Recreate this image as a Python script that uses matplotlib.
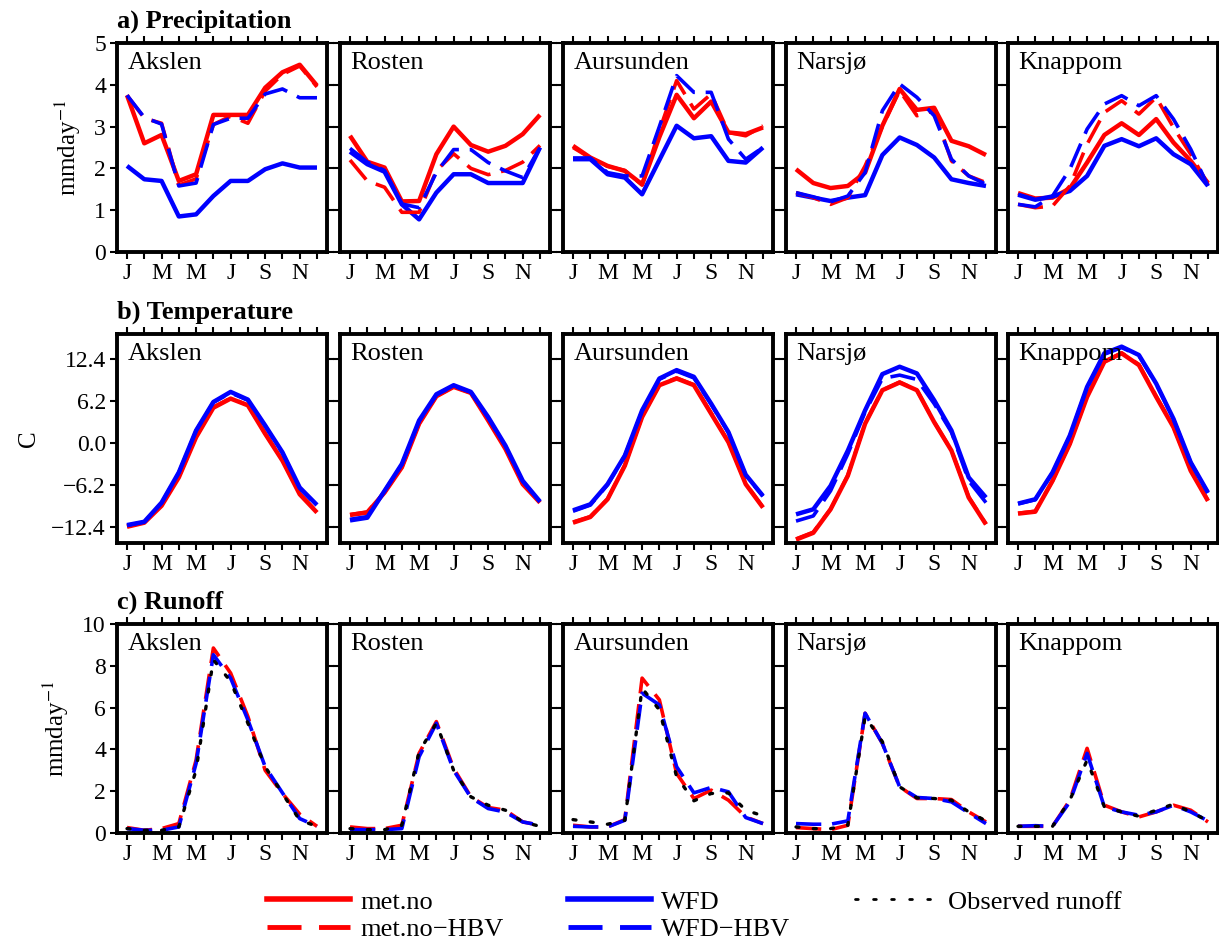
import matplotlib
matplotlib.use("Agg")
import matplotlib.pyplot as plt
from matplotlib.lines import Line2D
import numpy as np

plt.rcParams['font.family'] = ['Liberation Serif', 'DejaVu Serif']
plt.rcParams['mathtext.fontset'] = 'stix'

months = np.arange(1, 13)
month_labels = ['J', '', 'M', '', 'M', '', 'J', '', 'S', '', 'N', '']
stations = ['Akslen', 'Rosten', 'Aursunden', 'Narsjø', 'Knappom']

# ---------------- Precipitation (mm/day) ----------------
prec_metno = {
    'Akslen':    [3.75, 2.6, 2.8, 1.7, 1.86, 3.28, 3.28, 3.28, 3.93, 4.3, 4.48, 3.98],
    'Rosten':    [2.78, 2.16, 2.02, 1.21, 1.22, 2.34, 3.0, 2.56, 2.4, 2.54, 2.82, 3.28],
    'Aursunden': [2.54, 2.26, 2.06, 1.94, 1.62, 2.75, 3.76, 3.2, 3.6, 2.86, 2.82, 2.98],
    'Narsjø':    [1.98, 1.65, 1.53, 1.58, 1.9, 3.02, 3.9, 3.4, 3.45, 2.66, 2.53, 2.32],
    'Knappom':   [1.41, 1.28, 1.3, 1.52, 2.14, 2.8, 3.08, 2.8, 3.18, 2.62, 2.18, 1.65],
}
prec_metno_hbv = {
    'Akslen':    [3.75, 3.2, 3.08, 1.6, 1.75, 3.05, 3.25, 3.08, 3.85, 4.25, 4.45, 3.95],
    'Rosten':    [2.2, 1.7, 1.55, 0.95, 0.95, 1.95, 2.35, 2.0, 1.85, 1.95, 2.15, 2.55],
    'Aursunden': [2.5, 2.25, 2.05, 1.95, 1.6, 2.9, 4.1, 3.42, 3.78, 2.86, 2.78, 3.02],
    'Narsjø':    [1.42, 1.3, 1.14, 1.3, 2.06, 3.0, 3.86, 3.26, 3.38, 2.18, 1.82, 1.66],
    'Knappom':   [1.14, 1.06, 1.1, 1.58, 2.58, 3.34, 3.62, 3.3, 3.7, 2.98, 2.34, 1.62],
}
prec_wfd = {
    'Akslen':    [2.06, 1.74, 1.7, 0.85, 0.9, 1.34, 1.7, 1.7, 1.98, 2.12, 2.02, 2.02],
    'Rosten':    [2.4, 2.1, 1.92, 1.14, 0.78, 1.42, 1.86, 1.86, 1.65, 1.65, 1.65, 2.5],
    'Aursunden': [2.22, 2.22, 1.86, 1.78, 1.38, 2.2, 3.02, 2.72, 2.77, 2.18, 2.14, 2.5],
    'Narsjø':    [1.38, 1.3, 1.22, 1.3, 1.36, 2.32, 2.74, 2.56, 2.26, 1.74, 1.65, 1.58],
    'Knappom':   [1.37, 1.25, 1.33, 1.46, 1.82, 2.54, 2.7, 2.53, 2.72, 2.34, 2.1, 1.58],
}
prec_wfd_hbv = {
    'Akslen':    [3.75, 3.22, 3.06, 1.58, 1.65, 3.05, 3.2, 3.2, 3.78, 3.9, 3.69, 3.69],
    'Rosten':    [2.48, 2.15, 1.95, 1.15, 1.06, 1.9, 2.45, 2.45, 2.14, 1.94, 1.78, 2.5],
    'Aursunden': [2.25, 2.25, 1.9, 1.82, 1.82, 3.0, 4.22, 3.82, 3.82, 2.7, 2.22, 2.5],
    'Narsjø':    [1.42, 1.32, 1.2, 1.34, 1.9, 3.38, 4.02, 3.7, 3.26, 2.22, 1.82, 1.62],
    'Knappom':   [1.14, 1.08, 1.34, 1.98, 2.94, 3.54, 3.74, 3.5, 3.74, 3.18, 2.46, 1.58],
}

# ---------------- Temperature (C) ----------------
temp_metno = {
    'Akslen':    [-12.4, -11.8, -9.3, -5.1, 0.84, 5.2, 6.55, 5.55, 1.34, -2.63, -7.6, -10.3],
    'Rosten':    [-10.66, -10.3, -7.34, -3.62, 2.83, 6.9, 8.28, 7.39, 3.32, -0.89, -6.1, -8.83],
    'Aursunden': [-11.8, -10.96, -8.33, -3.37, 3.82, 8.53, 9.52, 8.53, 4.31, 0.1, -6.1, -9.57],
    'Narsjø':    [-14.3, -13.3, -9.82, -4.86, 2.83, 7.79, 8.93, 7.79, 3.07, -1.14, -8.08, -12.05],
    'Knappom':   [-10.46, -10.17, -5.6, -0.15, 6.8, 12.0, 13.24, 11.5, 6.8, 2.33, -4.12, -8.58],
}
temp_metno_hbv = {
    'Akslen':    [-12.3, -11.7, -9.2, -5.0, 0.9, 5.3, 6.6, 5.6, 1.4, -2.5, -7.5, -10.2],
    'Rosten':    [-10.6, -10.2, -7.3, -3.6, 2.9, 6.9, 8.3, 7.4, 3.4, -0.8, -6.0, -8.8],
    'Aursunden': [-11.7, -10.9, -8.3, -3.3, 3.9, 8.6, 9.6, 8.6, 4.4, 0.2, -6.0, -9.5],
    'Narsjø':    [-14.2, -13.2, -9.8, -4.8, 2.9, 7.8, 9.0, 7.8, 3.1, -1.1, -8.0, -12.0],
    'Knappom':   [-10.4, -10.1, -5.6, -0.1, 6.9, 12.0, 13.3, 11.6, 6.9, 2.4, -4.0, -8.5],
}
temp_wfd = {
    'Akslen':    [-12.15, -11.66, -8.83, -4.36, 1.84, 6.05, 7.54, 6.4, 2.58, -1.39, -6.6, -9.18],
    'Rosten':    [-11.46, -11.06, -7.09, -3.12, 3.32, 7.19, 8.53, 7.54, 3.82, -0.4, -5.6, -8.68],
    'Aursunden': [-9.97, -9.08, -6.1, -1.88, 4.81, 9.52, 10.76, 9.77, 5.8, 1.59, -4.71, -7.84],
    'Narsjø':    [-10.56, -9.82, -6.35, -1.14, 4.81, 10.17, 11.26, 10.27, 6.3, 1.84, -5.11, -8.08],
    'Knappom':   [-8.98, -8.33, -4.36, 1.09, 8.28, 13.24, 14.23, 12.99, 8.78, 3.57, -2.88, -7.34],
}
temp_wfd_hbv = {
    'Akslen':    [-12.2, -11.7, -8.9, -4.4, 1.8, 6.0, 7.4, 6.3, 2.5, -1.5, -6.7, -9.3],
    'Rosten':    [-11.3, -10.9, -7.1, -3.2, 3.2, 7.1, 8.4, 7.5, 3.7, -0.5, -5.7, -8.7],
    'Aursunden': [-10.1, -9.2, -6.2, -1.9, 4.7, 9.4, 10.6, 9.6, 5.7, 1.5, -4.8, -7.9],
    'Narsjø':    [-11.56, -10.8, -7.09, -1.63, 4.56, 9.52, 10.02, 9.37, 5.8, 1.59, -5.6, -8.83],
    'Knappom':   [-9.0, -8.4, -4.4, 1.0, 8.2, 13.1, 14.1, 12.9, 8.7, 3.5, -2.9, -7.4],
}

# ---------------- Runoff (mm/day) ----------------
run_metno_hbv = {
    'Akslen':    [0.26, 0.13, 0.21, 0.45, 3.49, 8.85, 7.65, 5.57, 3.0, 1.89, 0.9, 0.32],
    'Rosten':    [0.29, 0.21, 0.21, 0.37, 3.81, 5.33, 3.09, 1.73, 1.22, 1.09, 0.53, 0.37],
    'Aursunden': [0.37, 0.29, 0.29, 0.64, 7.41, 6.37, 2.85, 1.65, 2.05, 1.57, 0.77, 0.45],
    'Narsjø':    [0.26, 0.21, 0.16, 0.37, 5.73, 4.29, 2.21, 1.65, 1.65, 1.6, 1.01, 0.53],
    'Knappom':   [0.32, 0.32, 0.32, 1.57, 4.05, 1.33, 1.01, 0.77, 1.01, 1.33, 1.09, 0.53],
}
run_wfd_hbv = {
    'Akslen':    [0.21, 0.13, 0.13, 0.29, 3.33, 8.53, 7.41, 5.41, 3.17, 1.92, 0.69, 0.32],
    'Rosten':    [0.16, 0.16, 0.16, 0.21, 3.65, 5.25, 3.0, 1.7, 1.17, 1.0, 0.53, 0.37],
    'Aursunden': [0.32, 0.29, 0.29, 0.61, 6.69, 6.13, 3.17, 1.92, 2.18, 1.97, 0.74, 0.45],
    'Narsjø':    [0.45, 0.42, 0.42, 0.58, 5.73, 4.29, 2.21, 1.7, 1.65, 1.49, 0.96, 0.45],
    'Knappom':   [0.32, 0.35, 0.32, 1.49, 3.81, 1.25, 1.01, 0.85, 1.01, 1.33, 1.01, 0.58],
}
run_obs = {
    'Akslen':    [0.21, 0.13, 0.13, 0.29, 3.01, 8.29, 7.25, 5.25, 3.17, 1.89, 0.61, 0.32],
    'Rosten':    [0.21, 0.16, 0.16, 0.37, 3.89, 5.25, 3.0, 1.73, 1.33, 1.09, 0.53, 0.32],
    'Aursunden': [0.64, 0.53, 0.42, 0.61, 6.93, 5.89, 2.69, 1.54, 1.89, 1.92, 1.09, 0.82],
    'Narsjø':    [0.29, 0.21, 0.21, 0.37, 5.57, 4.37, 2.21, 1.68, 1.65, 1.57, 1.01, 0.58],
    'Knappom':   [0.32, 0.32, 0.32, 1.57, 3.49, 1.25, 1.01, 0.8, 1.09, 1.38, 1.01, 0.58],
}

row_titles = ['a) Precipitation', 'b) Temperature', 'c) Runoff']
row_ylabels = ['mmday$^{-1}$', 'C', 'mmday$^{-1}$']
temp_ticks = [-12.4, -6.2, 0.0, 6.2, 12.4]
temp_ticklabels = ['\u221212.4', '\u22126.2', '0.0', '6.2', '12.4']

RED = '#ff0000'
BLUE = '#0000ff'
W, H = 1219, 944
fig = plt.figure(figsize=(W / 100, H / 100), dpi=100)

lefts = [117, 340, 563, 786, 1008]
tops = [43, 334, 624]
aw, ah = 210, 209

solid_kw = dict(lw=3.2, solid_capstyle='butt')
dash_kw = dict(lw=2.6, dashes=(7, 3))
obs_kw = dict(lw=2.4, color='black', dashes=(0.9, 4.3), dash_capstyle='round')

for r in range(3):
    for c, st in enumerate(stations):
        ax = fig.add_axes([lefts[c] / W, 1 - (tops[r] + ah) / H, aw / W, ah / H])
        if r == 0:
            ax.plot(months, prec_metno[st], color=RED, **solid_kw)
            ax.plot(months, prec_wfd[st], color=BLUE, **solid_kw)
            ax.plot(months, prec_metno_hbv[st], color=RED, **dash_kw)
            ax.plot(months, prec_wfd_hbv[st], color=BLUE, **dash_kw)
            ax.set_ylim(0, 5)
            ax.set_yticks([0, 1, 2, 3, 4, 5])
        elif r == 1:
            ax.plot(months, temp_metno[st], color=RED, **solid_kw)
            ax.plot(months, temp_metno_hbv[st], color=RED, **dash_kw)
            ax.plot(months, temp_wfd[st], color=BLUE, **solid_kw)
            ax.plot(months, temp_wfd_hbv[st], color=BLUE, **dash_kw)
            ax.set_ylim(-14.8, 16.1)
            ax.set_yticks(temp_ticks)
            ax.set_yticklabels(temp_ticklabels)
        else:
            ax.plot(months, run_metno_hbv[st], color=RED, **dash_kw)
            ax.plot(months, run_wfd_hbv[st], color=BLUE, **dash_kw)
            ax.plot(months, run_obs[st], **obs_kw)
            ax.set_ylim(0, 10)
            ax.set_yticks([0, 2, 4, 6, 8, 10])
        ax.set_xlim(0.42, 12.58)
        ax.set_xticks(months)
        ax.set_xticklabels(month_labels)
        ax.tick_params(direction='out', length=5, width=1.5, top=True, right=True,
                       labelsize=17, pad=3)
        for sp in ax.spines.values():
            sp.set_linewidth(2.8)
        if c != 0:
            ax.set_yticklabels([])
        else:
            ax.set_ylabel(row_ylabels[r], fontsize=18, labelpad=8)
            ax.text(0.0, 1.05, row_titles[r], transform=ax.transAxes, fontsize=19,
                    fontweight='bold', ha='left', va='bottom')
        ax.text(0.05, 0.955, st, transform=ax.transAxes, fontsize=19, ha='left', va='top')

handles = [
    Line2D([], [], color=RED, lw=4),
    Line2D([], [], color=RED, lw=3.5, dashes=(7, 3.6)),
    Line2D([], [], color=BLUE, lw=4),
    Line2D([], [], color=BLUE, lw=3.5, dashes=(7, 3.6)),
    Line2D([], [], lw=2.0, color='black', dashes=(1, 5.5), dash_capstyle='round'),
]
labels = ['met.no', 'met.no\u2212HBV', 'WFD', 'WFD\u2212HBV', 'Observed runoff']
fig.legend(handles, labels, ncol=3, loc='upper left',
           bbox_to_anchor=(254 / W, 1 - 877 / H), frameon=False, fontsize=19,
           handlelength=3.15, handletextpad=0.38, columnspacing=2.45, labelspacing=0.15,
           borderpad=0.0)

fig.savefig('out.png', dpi=100)
